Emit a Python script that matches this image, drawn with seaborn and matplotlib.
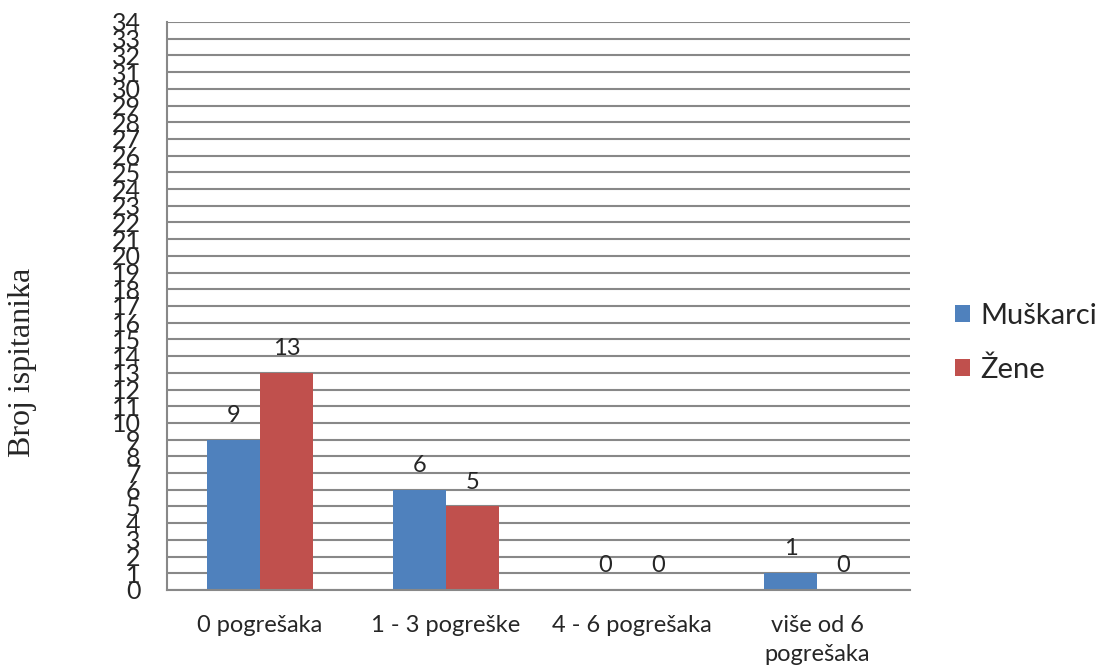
import pandas as pd
import seaborn as sns
import matplotlib.pyplot as plt


categories = ["0 pogrešaka", "1 - 3 pogreške", "4 - 6 pogrešaka", "više od 6\npogrešaka"]
muskarci = [9, 6, 0, 1]
zene = [13, 5, 0, 0]
series = ["Muškarci", "Žene"]
colors = ["#4F81BD", "#C0504D"]

df = pd.DataFrame({
    "kategorija": categories * 2,
    "broj": muskarci + zene,
    "spol": [series[0]] * len(categories) + [series[1]] * len(categories),
})

sns.set_style("white")
plt.rcParams["font.family"] = ["Lato", "DejaVu Sans"]

fig = plt.figure(figsize=(10.99, 6.68), dpi=100)
ax = fig.add_axes([0.152, 0.1168, 0.676, 0.8503])

sns.barplot(data=df, x="kategorija", y="broj", hue="spol", palette=colors,
            width=0.57, gap=0, saturation=1, linewidth=0, ax=ax, legend=True)

for cont in ax.containers:
    ax.bar_label(cont, fmt="%d", padding=10, fontsize=17)

grid_col = "#888888"
ax.set_ylim(0, 34)
ax.set_xlim(-0.5, len(categories) - 0.5)
ax.set_yticks(range(35))
ax.tick_params(axis="y", labelsize=18, length=7, width=1.5, color=grid_col, pad=12)
ax.yaxis.grid(True, color=grid_col, linewidth=1.5)
ax.set_axisbelow(True)

# category labels at centres, tick marks at the category borders
ax.set_xticks(range(len(categories)))
ax.set_xticklabels(categories, fontsize=17, linespacing=1.45)
ax.tick_params(axis="x", which="major", length=0, pad=18)
ax.set_xticks([i - 0.5 for i in range(len(categories) + 1)], minor=True)
ax.tick_params(axis="x", which="minor", length=8, width=1.5, color=grid_col)

for side in ["top", "right"]:
    ax.spines[side].set_visible(False)
for side in ["left", "bottom"]:
    ax.spines[side].set_color(grid_col)
    ax.spines[side].set_linewidth(1.5)

ax.set_xlabel("")
ax.set_ylabel("Broj ispitanika", family="Liberation Serif", fontsize=23)
ax.yaxis.label.set_va("center")
ax.yaxis.label.set_ha("center")
ax.yaxis.set_label_coords(-0.194, 0.401)

handles, labels = ax.get_legend_handles_labels()
ax.legend(handles, labels, loc="center left", bbox_to_anchor=(0.869, 0.487),
          bbox_transform=fig.transFigure, frameon=False, fontsize=21,
          handlelength=0.52, handleheight=0.52, handletextpad=0.35,
          labelspacing=0.95, borderpad=0, borderaxespad=0)

fig.savefig("out.png", dpi=100)
